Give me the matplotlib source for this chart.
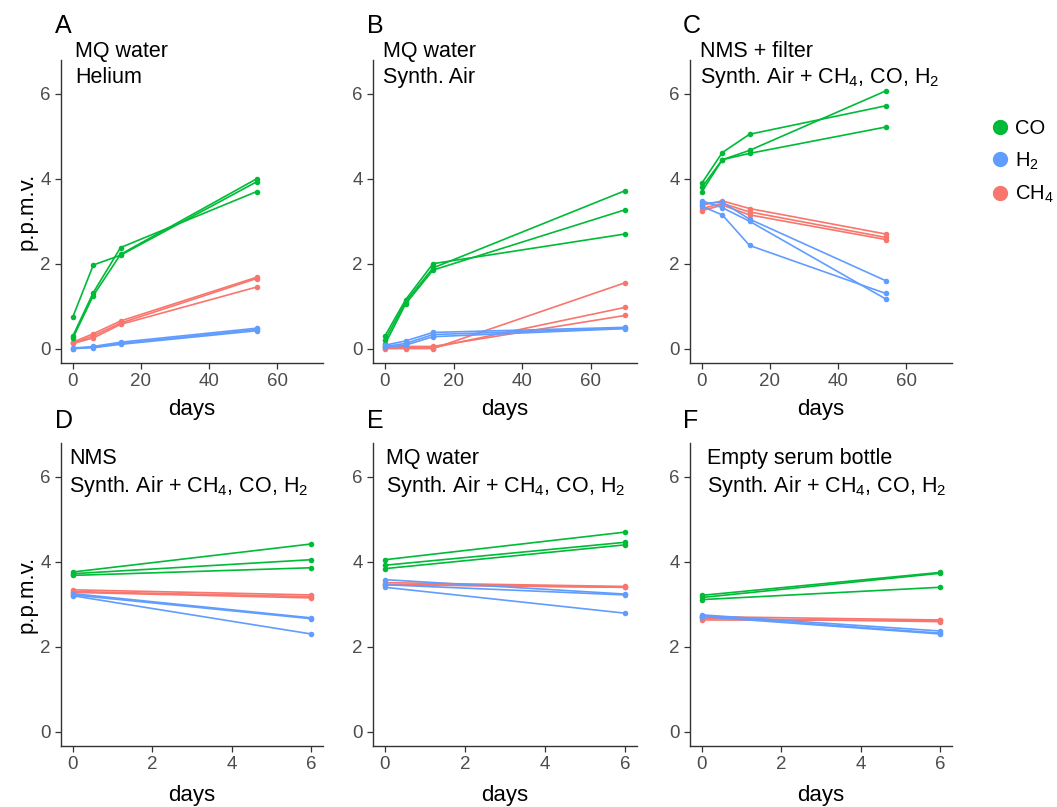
import numpy as np
import matplotlib
matplotlib.use('Agg')
import matplotlib.pyplot as plt
from matplotlib.lines import Line2D

plt.rcParams['font.family'] = ['Liberation Sans', 'DejaVu Sans']
plt.rcParams['mathtext.fontset'] = 'custom'
plt.rcParams['mathtext.rm'] = 'Liberation Sans'
plt.rcParams['mathtext.it'] = 'Liberation Sans'

# ── Data (3 replicate bottles per gas) ───────────────────────────────────────
days_A = [0, 6, 14, 54]
co_A  = [[0.75, 1.97, 2.20, 3.93], [0.30, 1.32, 2.38, 3.70], [0.25, 1.25, 2.22, 4.00]]
h2_A  = [[0.00, 0.05, 0.15, 0.48], [0.02, 0.03, 0.12, 0.45], [0.00, 0.02, 0.10, 0.42]]
ch4_A = [[0.15, 0.35, 0.65, 1.68], [0.12, 0.30, 0.60, 1.65], [0.12, 0.25, 0.57, 1.45]]

days_B = [0, 6, 14, 70]
co_B  = [[0.30, 1.15, 2.00, 2.70], [0.20, 1.10, 1.90, 3.72], [0.10, 1.05, 1.85, 3.27]]
h2_B  = [[0.08, 0.18, 0.38, 0.50], [0.05, 0.12, 0.33, 0.48], [0.03, 0.08, 0.28, 0.47]]
ch4_B = [[0.03, 0.05, 0.05, 0.78], [0.02, 0.02, 0.02, 0.97], [0.00, 0.00, 0.00, 1.55]]

days_C = [0, 6, 14, 54]
co_C  = [[3.90, 4.62, 5.05, 5.72], [3.80, 4.45, 4.67, 6.07], [3.70, 4.45, 4.60, 5.22]]
h2_C  = [[3.42, 3.45, 3.05, 1.60], [3.48, 3.32, 3.00, 1.17], [3.35, 3.15, 2.43, 1.30]]
ch4_C = [[3.38, 3.48, 3.30, 2.70], [3.30, 3.42, 3.22, 2.62], [3.25, 3.38, 3.15, 2.57]]

days_short = [0, 6]
co_D  = [[3.76, 4.42], [3.72, 4.05], [3.68, 3.86]]
h2_D  = [[3.25, 2.68], [3.22, 2.66], [3.20, 2.30]]
ch4_D = [[3.34, 3.22], [3.30, 3.18], [3.28, 3.15]]

co_E  = [[4.05, 4.70], [3.92, 4.46], [3.84, 4.40]]
h2_E  = [[3.58, 3.24], [3.46, 3.22], [3.40, 2.79]]
ch4_E = [[3.51, 3.42], [3.47, 3.40], [3.46, 3.40]]

co_F  = [[3.21, 3.75], [3.16, 3.73], [3.11, 3.40]]
h2_F  = [[2.75, 2.37], [2.73, 2.32], [2.71, 2.30]]
ch4_F = [[2.71, 2.63], [2.63, 2.62], [2.67, 2.59]]

panel_letters = ['A', 'B', 'C', 'D', 'E', 'F']
panel_line1 = ['MQ water', 'MQ water', 'NMS + filter',
               'NMS', 'MQ water', 'Empty serum bottle']
gas_mix = 'Synth. Air + CH$_4$, CO, H$_2$'
panel_line2 = ['Helium', 'Synth. Air', gas_mix, gas_mix, gas_mix, gas_mix]
panel_days = [days_A, days_B, days_C, days_short, days_short, days_short]
panel_series = [
    (co_A, h2_A, ch4_A), (co_B, h2_B, ch4_B), (co_C, h2_C, ch4_C),
    (co_D, h2_D, ch4_D), (co_E, h2_E, ch4_E), (co_F, h2_F, ch4_F),
]

gas_labels = ['CO', 'H$_2$', 'CH$_4$']
gas_colors = ['#00BA38', '#619CFF', '#F8766D']

# ── Layout (pixels of the 1057x807 canvas) ────────────────────────────────────
W, H = 1057, 807
fig = plt.figure(figsize=(W / 100, H / 100), dpi=100)
col_left = [61, 373, 690]
col_w = [262, 264, 262]
row_top = [60, 443]
row_h = 303
letter_x = [55, 367, 683]
letter_base = [33, 428]
title_x = [75, 383, 700, 69, 386, 707]
title_base = [(57, 83), (464, 492)]

def fx(px):
    return px / W

def fy(py):
    return 1 - py / H

for i in range(6):
    r, c = divmod(i, 3)
    ax = fig.add_axes([fx(col_left[c]), fy(row_top[r] + row_h),
                       col_w[c] / W, row_h / H])
    days = panel_days[i]
    # CH4 first, then CO, then H2
    for idx in [2, 0, 1]:
        for rep in panel_series[i][idx]:
            ax.plot(days, rep, '-o', color=gas_colors[idx], lw=1.2, ms=4,
                    mew=0)
    ax.set_ylim(-0.34, 6.8)
    ax.set_yticks([0, 2, 4, 6])
    if r == 0:
        ax.set_xlim(-3.5, 73.5)
        ax.set_xticks([0, 20, 40, 60])
    else:
        ax.set_xlim(-0.3, 6.3)
        ax.set_xticks([0, 2, 4, 6])
    for s in ['top', 'right']:
        ax.spines[s].set_visible(False)
    for s in ['left', 'bottom']:
        ax.spines[s].set_color('#333333')
        ax.spines[s].set_linewidth(1.0)
    ax.tick_params(labelsize=13.5, labelcolor='#4D4D4D', color='#333333',
                   length=4, width=0.9)
    ax.set_xlabel('days', fontsize=16, labelpad=6 if r == 0 else 8)
    if c == 0:
        ax.set_ylabel('p.p.m.v.', fontsize=16, labelpad=2)

    fig.text(fx(title_x[i]), fy(title_base[r][0]), panel_line1[i],
             fontsize=15.5, va='baseline', ha='left')
    fig.text(fx(title_x[i]), fy(title_base[r][1]), panel_line2[i],
             fontsize=15.5, va='baseline', ha='left')
    fig.text(fx(letter_x[c]), fy(letter_base[r]), panel_letters[i],
             fontsize=18, va='baseline', ha='left')

handles = [Line2D([], [], marker='o', ls='', color=col, ms=10)
           for col in gas_colors]
fig.legend(handles, gas_labels, loc='center left', frameon=False,
           bbox_to_anchor=(fx(990), fy(162)), fontsize=14.5,
           handlelength=1.0, handletextpad=0.25, labelspacing=0.6,
           borderpad=0, borderaxespad=0)

fig.savefig('out.png', dpi=100)
